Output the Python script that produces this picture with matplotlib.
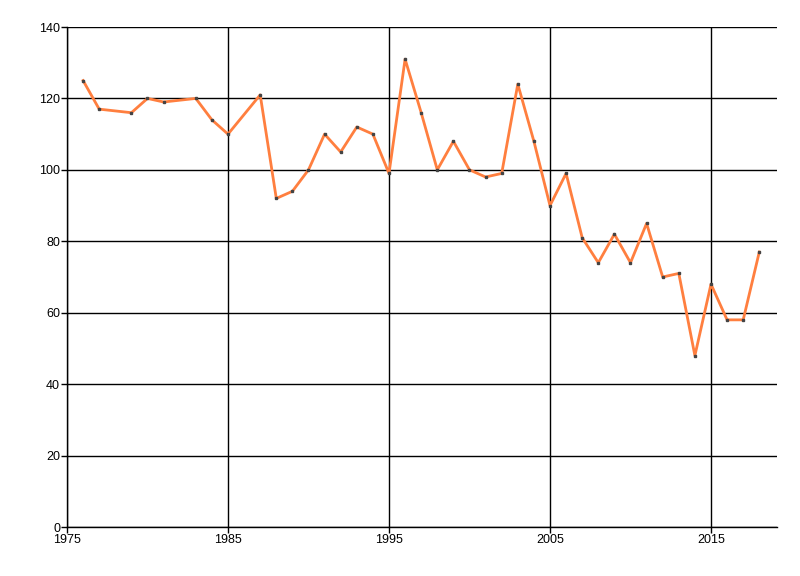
import matplotlib
matplotlib.use("Agg")
import matplotlib.pyplot as plt
from matplotlib import font_manager

years = [1976, 1977, 1979, 1980, 1981, 1983, 1984, 1985, 1987, 1988, 1989, 1990,
         1991, 1992, 1993, 1994, 1995, 1996, 1997, 1998, 1999, 2000, 2001, 2002,
         2003, 2004, 2005, 2006, 2007, 2008, 2009, 2010, 2011, 2012, 2013, 2014,
         2015, 2016, 2017, 2018]
values = [125, 117, 116, 120, 119, 120, 114, 110, 121, 92, 94, 100,
          110, 105, 112, 110, 99, 131, 116, 100, 108, 100, 98, 99,
          124, 108, 90, 99, 81, 74, 82, 74, 85, 70, 71, 48,
          68, 58, 58, 77]
x_ticks = [1975, 1985, 1995, 2005, 2015]
y_ticks = [0, 20, 40, 60, 80, 100, 120, 140]

names = {f.name for f in font_manager.fontManager.ttflist}
fam = ["Liberation Sans Narrow", "DejaVu Sans"] if "Liberation Sans Narrow" in names else ["Liberation Sans", "DejaVu Sans"]
plt.rcParams['font.family'] = fam

fig = plt.figure(figsize=(8, 5.76), dpi=100)
ax = fig.add_axes([67/800, 49/576, 710/800, 500/576])
ax.plot(years, values, color="#FF7F3F", lw=2, zorder=3)
ax.plot(years, values, ls="none", marker="s", ms=2, color="#444444", zorder=4)

ax.set_xlim(1975, 2019.1)
ax.set_ylim(0, 140)
ax.set_xticks(x_ticks)
ax.set_yticks(y_ticks)
ax.grid(True, color="black", lw=1)
ax.set_axisbelow(True)
for s in ["top", "right"]:
    ax.spines[s].set_visible(False)
for s in ["left", "bottom"]:
    ax.spines[s].set_color("black")
    ax.spines[s].set_linewidth(1)
ax.tick_params(axis="both", labelsize=9, length=4, width=1, color="black", pad=1)
fig.savefig("out.png", dpi=100)
